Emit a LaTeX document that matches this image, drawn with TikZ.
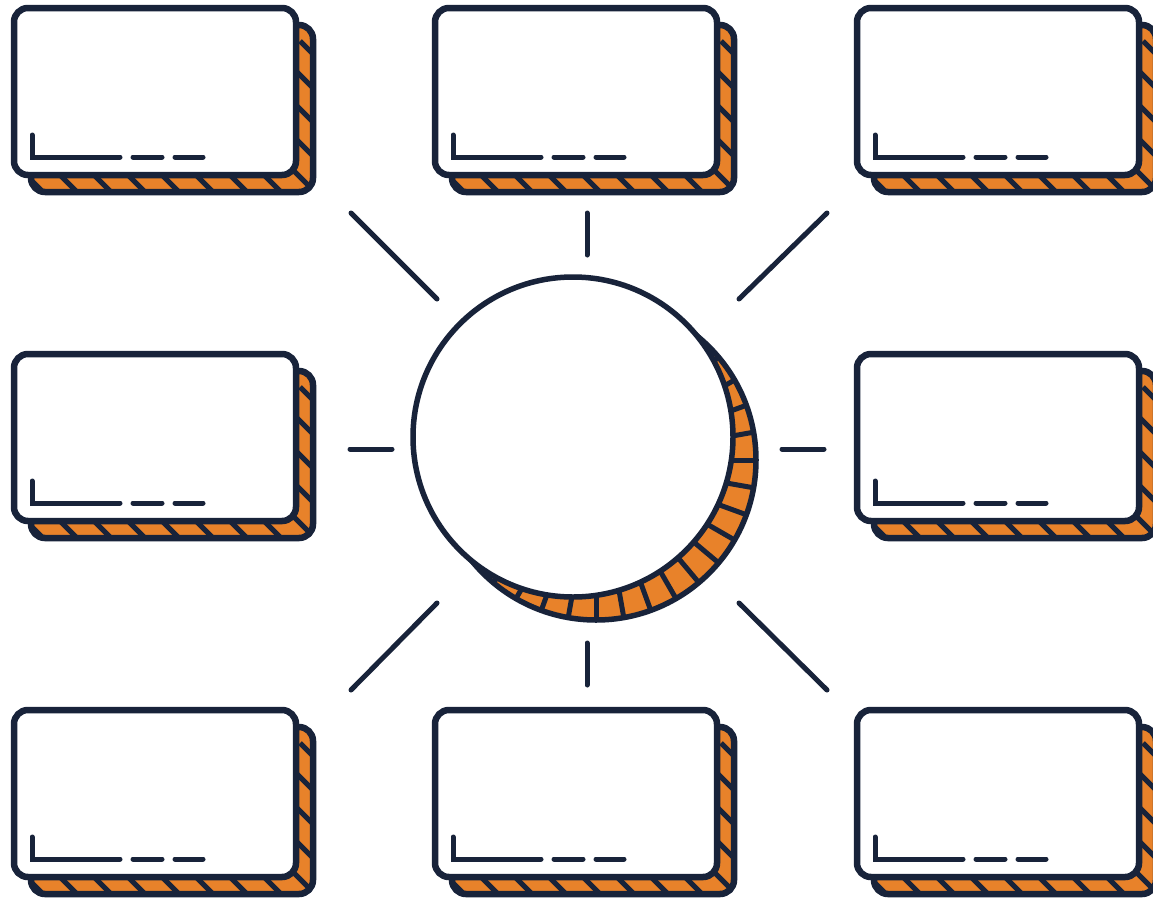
\documentclass[tikz,border=0pt]{standalone}
\definecolor{navy}{HTML}{18233A}
\definecolor{orng}{HTML}{E8822A}
\tikzset{
  outline/.style={draw=navy, line width=6.5pt, rounded corners=14pt},
  sep/.style={draw=navy, line width=5pt},
  ray/.style={draw=navy, line width=5pt, line cap=round},
  mark line/.style={draw=navy, line width=5pt, line cap=round},
}
\newcommand\cardat[3]{%
  \begin{scope}[shift={(#2,#3)}]
    \coordinate (#1) at (0,0);
    \fill[orng, rounded corners=14pt] (17,17) rectangle (299,184);
    \begin{scope}
      \clip[rounded corners=14pt] (17,17) rectangle (299,184);
      \foreach \k in {0,1,2,3,4,5,6,7,8,9,10,11,12,13,14,15,16} {
        \pgfmathsetmacro\xs{82+34*(\k-10)}
        \draw[sep] (\xs pt,-33pt) -- ++(400pt,-400pt);
      }
    \end{scope}
    \draw[outline] (17,17) rectangle (299,184);
    \draw[outline, fill=white] (0,0) rectangle (282,167);
    \draw[mark line] (18,127) -- (18,149) -- (106,149);
    \draw[mark line] (119,149) -- (148,149);
    \draw[mark line] (161,149) -- (189,149);
  \end{scope}}
\begin{document}
\begin{tikzpicture}[x=1pt, y=-1pt]
  \useasboundingbox[fill=white] (0,0) rectangle (1153,900);
  % cards
  \cardat{c11}{14}{8}
  \cardat{c12}{435}{8}
  \cardat{c13}{857}{8}
  \cardat{c21}{14}{354}
  \cardat{c23}{857}{354}
  \cardat{c31}{14}{710}
  \cardat{c32}{435}{710}
  \cardat{c33}{857}{710}
  % hub shadow
  \node[circle, inner sep=0pt, minimum size=320pt, fill=orng] (hubshadow) at (596,460) {};
  \begin{scope}
    \clip (596,460) circle (160pt);
    \foreach \a in {0,10,...,355} \draw[sep] (hubshadow.center) -- ++(\a:180pt);
  \end{scope}
  \node[circle, inner sep=0pt, minimum size=320pt, draw=navy, line width=5.5pt] (hubshadowline) at (596,460) {};
  \node[circle, inner sep=0pt, minimum size=320pt, draw=navy, line width=5.5pt, fill=white] (hub) at (573,437) {};
  % rays
  \coordinate (c) at (587,449);
  \draw[ray] ([shift={(0,-236)}]c) -- ([shift={(0,-194)}]c);
  \draw[ray] ([shift={(0,236)}]c) -- ([shift={(0,194)}]c);
  \draw[ray] ([shift={(-237,0)}]c) -- ([shift={(-195,0)}]c);
  \draw[ray] ([shift={(237,0)}]c) -- ([shift={(195,0)}]c);
  \draw[ray] ([shift={(-236,-236)}]c) -- ([shift={(-150,-150)}]c);
  \draw[ray] ([shift={(240,-236)}]c) -- ([shift={(152,-150)}]c);
  \draw[ray] ([shift={(-236,241)}]c) -- ([shift={(-150,154)}]c);
  \draw[ray] ([shift={(240,241)}]c) -- ([shift={(152,154)}]c);
\end{tikzpicture}
\end{document}
